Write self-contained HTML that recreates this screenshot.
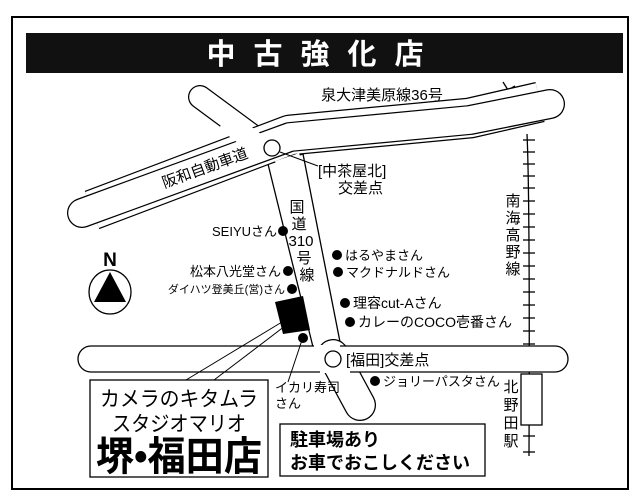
<!DOCTYPE html>
<html><head><meta charset="utf-8"><style>
body{margin:0;background:#fff;}
svg{display:block;}
text{font-family:"Liberation Sans","Noto Sans CJK JP",sans-serif;fill:#000;}
</style></head><body>
<svg width="640" height="503" viewBox="0 0 640 503" xmlns="http://www.w3.org/2000/svg">
<rect x="0" y="0" width="640" height="503" fill="#fff"/>
<rect x="12" y="17" width="616" height="472" fill="none" stroke="#000" stroke-width="2"/>
<rect x="26" y="33" width="597" height="40" fill="#111"/>
<text x="324" y="64" font-size="29" font-weight="bold" text-anchor="middle" style="fill:#fff" letter-spacing="18">中古強化店</text>

<path d="M527 134 Q530 200 529 456" fill="none" stroke="#000" stroke-width="1.3"/>
<g stroke="#000" stroke-width="1.3">
<line x1="523" y1="140" x2="535" y2="140"/><line x1="523" y1="152" x2="535" y2="152"/><line x1="523" y1="164" x2="535" y2="164"/><line x1="523" y1="176" x2="535" y2="176"/><line x1="523" y1="188" x2="535" y2="188"/><line x1="523" y1="201" x2="535" y2="201"/><line x1="523" y1="214" x2="535" y2="214"/><line x1="523" y1="227" x2="535" y2="227"/><line x1="523" y1="240" x2="535" y2="240"/><line x1="523" y1="253" x2="535" y2="253"/><line x1="523" y1="266" x2="535" y2="266"/><line x1="523" y1="279" x2="535" y2="279"/><line x1="523" y1="292" x2="535" y2="292"/><line x1="523" y1="305" x2="535" y2="305"/><line x1="523" y1="318" x2="535" y2="318"/><line x1="523" y1="331" x2="535" y2="331"/><line x1="523" y1="344" x2="535" y2="344"/><line x1="523" y1="436" x2="535" y2="436"/><line x1="523" y1="452" x2="535" y2="452"/>
<line x1="503" y1="82" x2="508" y2="90"/><line x1="508" y1="90" x2="515" y2="86"/>
</g>
<rect x="521" y="374" width="21" height="51" fill="#fff" stroke="#000" stroke-width="1.3"/>

<polygon points="268,164 303,154 341,347 313,347" fill="#fff" stroke="#000" stroke-width="1.3"/>
<polyline points="333,355 360,405" fill="none" stroke="#000" stroke-width="32" stroke-linecap="round"/>
<polyline points="333,355 360,405" fill="none" stroke="#fff" stroke-width="29.5" stroke-linecap="round"/>
<rect x="78" y="346" width="490" height="26" rx="13" fill="#fff" stroke="#000" stroke-width="1.3"/>
<line x1="314" y1="346" x2="340" y2="346" stroke="#fff" stroke-width="2"/>
<line x1="320" y1="372" x2="350" y2="372" stroke="#fff" stroke-width="2"/>

<polyline points="200,97 265,145" fill="none" stroke="#000" stroke-width="24" stroke-linecap="round"/>
<polyline points="200,97 265,145" fill="none" stroke="#fff" stroke-width="21.5" stroke-linecap="round"/>
<polyline points="92,210 290,135 470,118 540,102" fill="none" stroke="#000" stroke-width="41" stroke-linejoin="round"/>
<polyline points="92,210 290,135 470,118 540,102" fill="none" stroke="#fff" stroke-width="38.5" stroke-linejoin="round"/>
<polyline points="82,213 290,137 470,120 550,104" fill="none" stroke="#000" stroke-width="30" stroke-linecap="round" stroke-linejoin="round"/>
<polyline points="82,213 290,137 470,120 550,104" fill="none" stroke="#fff" stroke-width="27.5" stroke-linecap="round" stroke-linejoin="round"/>
<polyline points="225,120 262,148" fill="none" stroke="#fff" stroke-width="21"/>
<line x1="276" y1="164" x2="300" y2="156" stroke="#fff" stroke-width="6"/>

<circle cx="272" cy="148" r="8" fill="#fff" stroke="#000" stroke-width="1.3"/>
<circle cx="333" cy="359" r="8" fill="#fff" stroke="#000" stroke-width="1.3"/>
<line x1="280" y1="152" x2="318" y2="166" stroke="#000" stroke-width="1"/>

<text x="382" y="100" font-size="15" text-anchor="middle">泉大津美原線36号</text>
<text x="205" y="173" font-size="15" text-anchor="middle" transform="rotate(-20 205 168)">阪和自動車道</text>
<text x="318" y="176" font-size="15">[中茶屋北]</text>
<text x="338" y="193" font-size="15">交差点</text>
<g font-size="15" text-anchor="middle">
<text x="297" y="212">国</text><text x="299" y="229">道</text><text x="301" y="246">310</text><text x="304" y="263">号</text><text x="307" y="280">線</text>
<text x="513" y="206">南</text><text x="513" y="223">海</text><text x="513" y="240">高</text><text x="513" y="257">野</text><text x="513" y="274">線</text>
<text x="511" y="392">北</text><text x="511" y="410">野</text><text x="511" y="428">田</text><text x="511" y="446">駅</text>
</g>

<g fill="#000">
<circle cx="283" cy="231" r="5"/><circle cx="337" cy="255" r="5"/><circle cx="338" cy="272" r="5"/>
<circle cx="288" cy="271" r="5"/><circle cx="292" cy="289" r="5"/>
<circle cx="345" cy="303" r="5"/><circle cx="350" cy="322" r="5"/>
<circle cx="303" cy="338" r="5"/><circle cx="375" cy="381" r="5"/>
<polygon points="275,302 303,296 310,330 283,334"/>
</g>
<text x="277" y="236" font-size="13" text-anchor="end">SEIYUさん</text>
<text x="345" y="260" font-size="13">はるやまさん</text>
<text x="346" y="277" font-size="13">マクドナルドさん</text>
<text x="281" y="276" font-size="13" text-anchor="end">松本八光堂さん</text>
<text x="285" y="293" font-size="11" text-anchor="end">ダイハツ登美丘(営)さん</text>
<text x="353" y="308" font-size="14">理容cut-Aさん</text>
<text x="358" y="327" font-size="14">カレーのCOCO壱番さん</text>
<text x="346" y="365" font-size="15">[福田]交差点</text>
<text x="383" y="386" font-size="13">ジョリーパスタさん</text>
<text x="275" y="392" font-size="13">イカリ寿司</text>
<text x="275" y="408" font-size="13">さん</text>
<line x1="302" y1="340" x2="288" y2="382" stroke="#000" stroke-width="1"/>
<line x1="282" y1="322" x2="186" y2="380" stroke="#000" stroke-width="1"/>
<line x1="285" y1="326" x2="214" y2="380" stroke="#000" stroke-width="1"/>

<text x="110" y="266" font-size="19" font-weight="bold" text-anchor="middle">N</text>
<ellipse cx="110" cy="292" rx="21" ry="22" fill="#fff" stroke="#000" stroke-width="1.3"/>
<polygon points="110,272 94,302 126,302" fill="#000"/>

<rect x="90" y="380" width="178" height="97" fill="#fff" stroke="#000" stroke-width="1.3"/>
<text x="100" y="406" font-size="21" textLength="158" lengthAdjust="spacingAndGlyphs">カメラのキタムラ</text>
<text x="112" y="431" font-size="21" textLength="134" lengthAdjust="spacingAndGlyphs">スタジオマリオ</text>
<text x="96" y="470" font-size="40" font-weight="bold" textLength="166" lengthAdjust="spacingAndGlyphs">堺•福田店</text>

<rect x="280" y="424" width="205" height="52" fill="#fff" stroke="#000" stroke-width="1.3"/>
<text x="290" y="446" font-size="18" font-weight="bold">駐車場あり</text>
<text x="290" y="469" font-size="18" font-weight="bold">お車でおこしください</text>
</svg>
</body></html>
